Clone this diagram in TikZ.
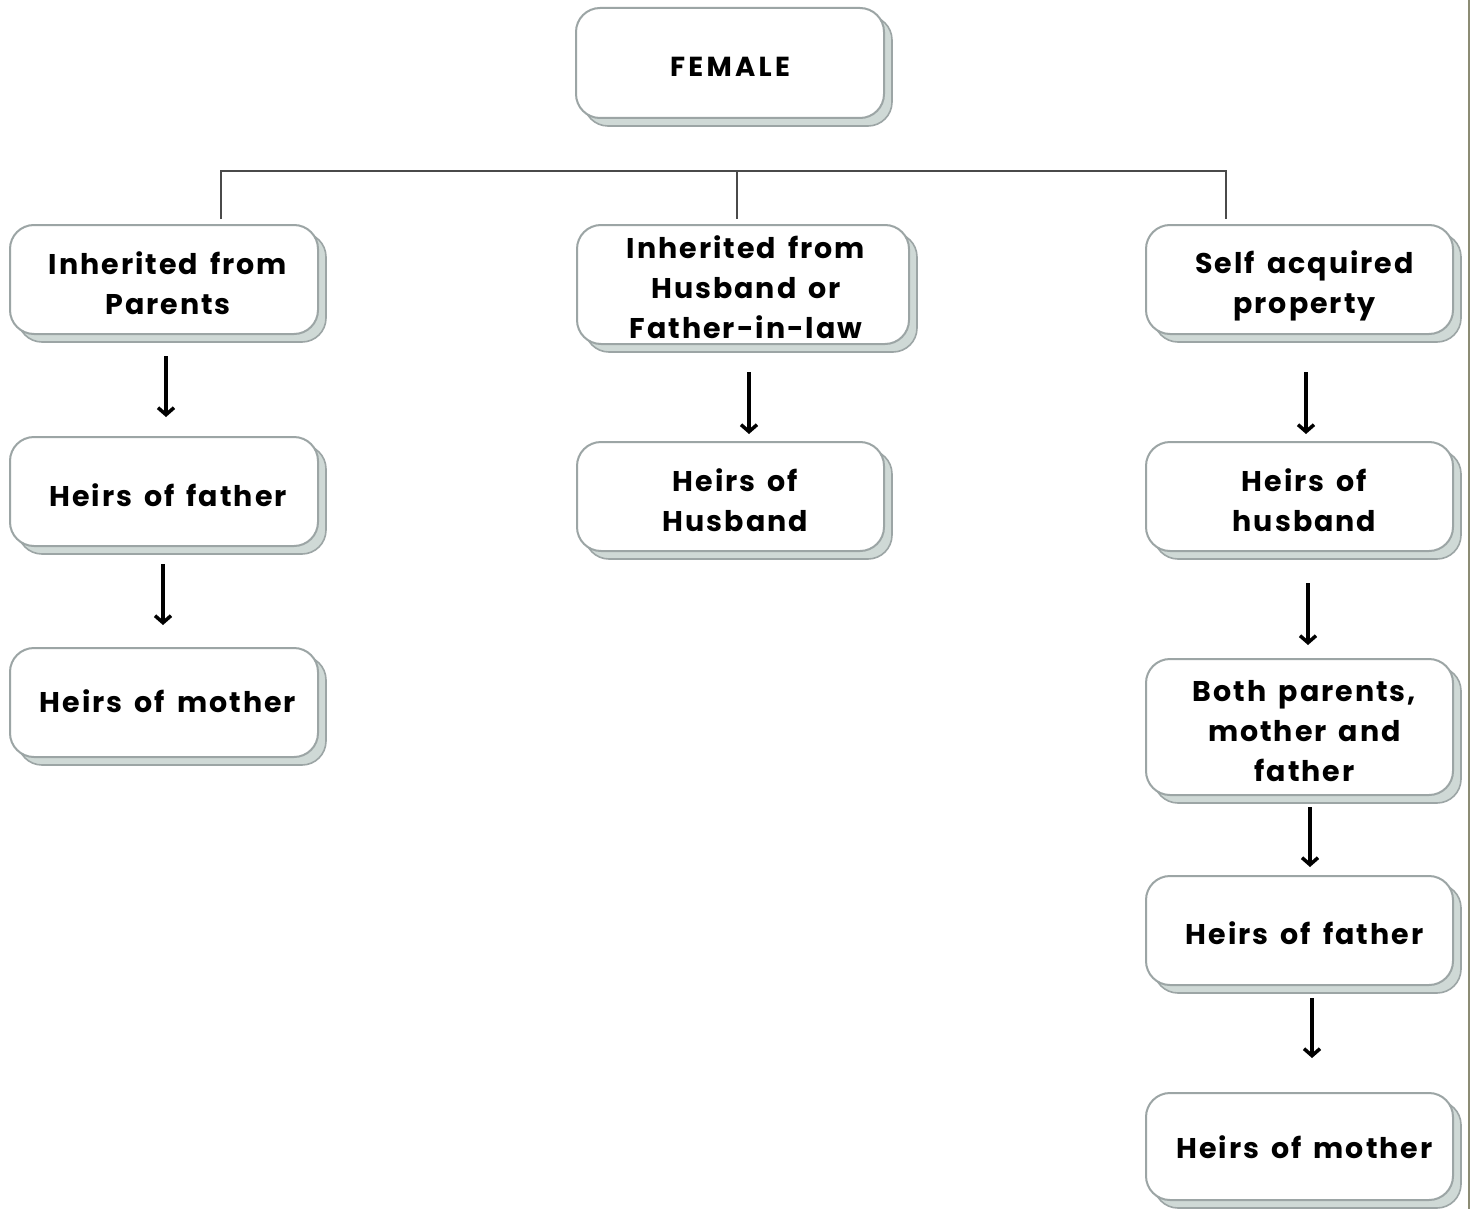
\documentclass[tikz,border=0pt]{standalone}
\usepackage{fontspec}
\setmainfont{Poppins}[LetterSpace=7,WordSpace=1.5]
\newfontfamily\widefont{Poppins}[LetterSpace=12]
\usetikzlibrary{arrows.meta,shadows}
\definecolor{edgegrey}{HTML}{9CA5A5}
\definecolor{shadowfill}{HTML}{CFD9D6}
\definecolor{barline}{HTML}{4A4A4A}
\definecolor{rimline}{HTML}{8C8C74}
\tikzset{
  card/.style={draw=edgegrey, line width=2pt, fill=white, rounded corners=24pt,
    inner sep=0pt,
    copy shadow={shadow xshift=8pt, shadow yshift=-8pt, fill=shadowfill,
      draw=edgegrey, line width=1.6pt}},
  cardtext/.style={inner sep=0pt, align=center,
    font=\fontsize{28.5}{40}\selectfont\bfseries},
  conn/.style={draw=barline, line width=1.3pt},
  arr/.style={draw=black, line width=3.5pt, -{Straight Barb[length=7pt,width=16pt]}},
}
% \cardbox{name}{centre}{width}{height}{text offset}{text}
\newcommand\cardbox[6]{%
  \node[card, minimum width=#3pt, minimum height=#4pt] (#1) at (#2) {};
  \node[cardtext] (#1-text) at ([#5]#1.center) {#6};
}
\begin{document}
\begin{tikzpicture}[x=1pt,y=-1pt]
  % page area and right rim
  \fill[white] (0,0) rectangle (1471,1209);
  \useasboundingbox (0,0) rectangle (1471,1209);
  \draw[rimline, line width=1.2pt] (1469,0) -- (1469,1209);

  % root
  \node[card, minimum width=308pt, minimum height=110pt] (root) at (730,63) {};
  \node[inner sep=0pt, font=\fontsize{27.5}{30}\selectfont\bfseries\widefont]
    (root-text) at ([xshift=0pt,yshift=-4pt]root.center) {FEMALE};

  % left column: inherited from parents
  \cardbox{par}{164,279.5}{308}{109}{xshift=4pt,yshift=-4pt}{Inherited from\\Parents}
  \cardbox{lfa}{164,491.5}{308}{109}{xshift=4pt,yshift=-4pt}{Heirs of father}
  \cardbox{lmo}{164,702.5}{308}{109}{xshift=4pt,yshift=1pt}{Heirs of mother}

  % middle column: inherited from husband
  \cardbox{hus}{743,284.5}{332}{119}{xshift=3pt,yshift=-3pt}{Inherited from\\Husband or\\Father-in-law}
  \cardbox{mhu}{730.5,496.5}{307}{109}{xshift=5pt,yshift=-4pt}{Heirs of\\Husband}

  % right column: self acquired property
  \cardbox{self}{1299.5,279.5}{307}{109}{xshift=5pt,yshift=-6pt}{Self acquired\\property}
  \cardbox{rhu}{1299.5,496.5}{307}{109}{xshift=5pt,yshift=-4pt}{Heirs of\\husband}
  \cardbox{both}{1299.5,727}{307}{136}{xshift=5pt,yshift=-4pt}{Both parents,\\mother and\\father}
  \cardbox{rfa}{1299.5,930.5}{307}{109}{xshift=5pt,yshift=-3pt}{Heirs of father}
  \cardbox{rmo}{1299.5,1146.5}{307}{107}{xshift=5pt,yshift=-1pt}{Heirs of mother}

  % branching bar
  \coordinate (busL) at (221,171);
  \coordinate (busM) at (737,171);
  \coordinate (busR) at (1226,171);
  \draw[conn] ([yshift=5pt]busL |- par.north) -- (busL) -- (busR) -- ([yshift=5pt]busR |- self.north);
  \draw[conn] (busM) -- ([yshift=5pt]busM |- hus.north);

  % arrows down each column
  \draw[arr, shorten <=21pt, shorten >=19pt] ([xshift=2pt]par.south) -- ([xshift=2pt]lfa.north);
  \draw[arr, shorten <=17pt, shorten >=22pt] ([xshift=-1pt]lfa.south) -- ([xshift=-1pt]lmo.north);
  \draw[arr, shorten <=27pt, shorten >=7pt] (hus.south -| 749,0) -- (mhu.north -| 749,0);
  \draw[arr, shorten <=37pt, shorten >=7pt] ([xshift=6.5pt]self.south) -- ([xshift=6.5pt]rhu.north);
  \draw[arr, shorten <=31pt, shorten >=13pt] ([xshift=8.5pt]rhu.south) -- ([xshift=8.5pt]both.north);
  \draw[arr, shorten <=11pt, shorten >=8pt] ([xshift=10.5pt]both.south) -- ([xshift=10.5pt]rfa.north);
  \draw[arr, shorten <=12pt, shorten >=34pt] ([xshift=12.5pt]rfa.south) -- ([xshift=12.5pt]rmo.north);
\end{tikzpicture}
\end{document}
